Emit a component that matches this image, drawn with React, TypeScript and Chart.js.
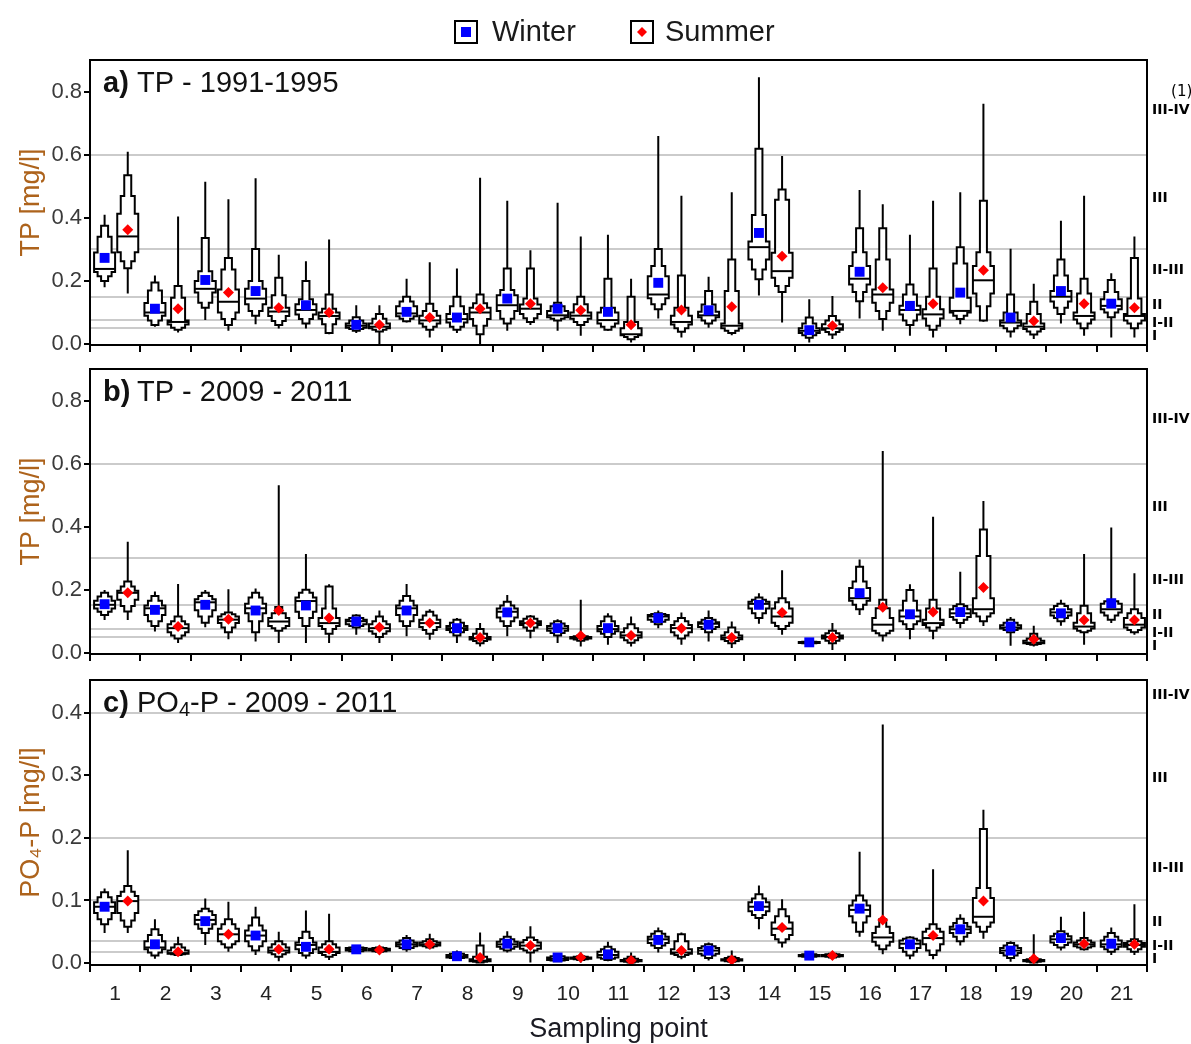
import React, { useEffect, useRef } from 'react';
import { Chart, registerables } from 'chart.js';

Chart.register(...registerables);

const FONT = '"Liberation Sans", Arial, Helvetica, sans-serif';
const CLASS_FONT = '"DejaVu Sans", "Liberation Sans", sans-serif';

// ---------- categories / ticks ----------
const samplingPoints = ['1', '2', '3', '4', '5', '6', '7', '8', '9', '10', '11', '12', '13', '14', '15', '16', '17', '18', '19', '20', '21'];
const tpTickValues = [0, 0.2, 0.4, 0.6, 0.8];
const po4TickValues = [0, 0.1, 0.2, 0.3, 0.4];

// water quality class limits (grey lines) and class label positions (right side)
const tpThresholds = [0.6, 0.3, 0.15, 0.075, 0.05];
const po4Thresholds = [0.4, 0.2, 0.1, 0.036, 0.017];
const classLabelsA = ['    (1)', 'III-IV', 'III', 'II-III', 'II', 'I-II', 'I'];
const classPosA = [0.797, 0.74, 0.463, 0.233, 0.123, 0.066, 0.025];
const classLabelsB = ['III-IV', 'III', 'II-III', 'II', 'I-II', 'I'];
const classPosB = [0.74, 0.462, 0.231, 0.12, 0.06, 0.019];
const classLabelsC = ['III-IV', 'III', 'II-III', 'II', 'I-II', 'I'];
const classPosC = [0.427, 0.295, 0.151, 0.065, 0.027, 0.006];

// ---------- letter-value data ----------
// each row: [min, lower3, lower2, Q1, median, Q3, upper2, upper3, max, mean]
const tpA_winter = [
  [0.18, 0.2, 0.215, 0.228, 0.238, 0.29, 0.34, 0.375, 0.41, 0.273],
  [0.055, 0.06, 0.075, 0.09, 0.1, 0.13, 0.17, 0.195, 0.217, 0.112],
  [0.076, 0.115, 0.131, 0.163, 0.175, 0.2, 0.231, 0.336, 0.514, 0.203],
  [0.063, 0.09, 0.105, 0.126, 0.144, 0.175, 0.2, 0.301, 0.525, 0.168],
  [0.049, 0.065, 0.079, 0.094, 0.108, 0.126, 0.142, 0.2, 0.262, 0.123],
  [0.035, 0.042, 0.048, 0.052, 0.058, 0.065, 0.075, 0.085, 0.123, 0.061],
  [0.068, 0.072, 0.08, 0.088, 0.097, 0.12, 0.135, 0.15, 0.207, 0.102],
  [0.035, 0.045, 0.055, 0.068, 0.079, 0.095, 0.12, 0.15, 0.239, 0.084],
  [0.042, 0.065, 0.08, 0.105, 0.123, 0.155, 0.171, 0.239, 0.454, 0.144],
  [0.042, 0.075, 0.08, 0.085, 0.091, 0.105, 0.12, 0.131, 0.448, 0.112],
  [0.042, 0.045, 0.055, 0.065, 0.076, 0.1, 0.115, 0.207, 0.346, 0.102],
  [0.081, 0.11, 0.126, 0.145, 0.157, 0.215, 0.247, 0.301, 0.659, 0.194],
  [0.052, 0.065, 0.075, 0.085, 0.091, 0.102, 0.125, 0.168, 0.213, 0.107],
  [0.154, 0.205, 0.236, 0.268, 0.307, 0.325, 0.409, 0.619, 0.845, 0.352],
  [0.005, 0.02, 0.028, 0.035, 0.042, 0.05, 0.065, 0.084, 0.142, 0.044],
  [0.081, 0.136, 0.165, 0.189, 0.207, 0.247, 0.291, 0.367, 0.488, 0.229],
  [0.026, 0.06, 0.075, 0.094, 0.108, 0.121, 0.157, 0.189, 0.346, 0.121],
  [0.063, 0.079, 0.09, 0.1, 0.105, 0.147, 0.255, 0.307, 0.481, 0.163],
  [0.021, 0.04, 0.05, 0.058, 0.068, 0.075, 0.1, 0.157, 0.302, 0.084],
  [0.065, 0.095, 0.115, 0.135, 0.15, 0.168, 0.217, 0.268, 0.391, 0.168],
  [0.021, 0.085, 0.1, 0.11, 0.121, 0.142, 0.165, 0.203, 0.224, 0.128],
];
const tpA_summer = [
  [0.16, 0.24, 0.262, 0.291, 0.341, 0.413, 0.469, 0.535, 0.609, 0.362],
  [0.037, 0.045, 0.052, 0.062, 0.07, 0.075, 0.147, 0.184, 0.404, 0.112],
  [0.042, 0.06, 0.079, 0.1, 0.134, 0.173, 0.236, 0.273, 0.459, 0.163],
  [0.049, 0.06, 0.073, 0.089, 0.103, 0.115, 0.155, 0.21, 0.283, 0.115],
  [0.031, 0.035, 0.063, 0.08, 0.089, 0.1, 0.112, 0.157, 0.331, 0.1],
  [0.0, 0.04, 0.045, 0.05, 0.055, 0.065, 0.08, 0.095, 0.123, 0.061],
  [0.021, 0.045, 0.055, 0.065, 0.075, 0.09, 0.105, 0.128, 0.259, 0.084],
  [0.0, 0.031, 0.058, 0.079, 0.1, 0.115, 0.129, 0.157, 0.527, 0.112],
  [0.06, 0.07, 0.082, 0.095, 0.112, 0.125, 0.144, 0.239, 0.297, 0.128],
  [0.026, 0.06, 0.07, 0.08, 0.09, 0.1, 0.126, 0.15, 0.341, 0.107],
  [0.005, 0.015, 0.022, 0.028, 0.031, 0.05, 0.07, 0.15, 0.207, 0.061],
  [0.021, 0.039, 0.05, 0.062, 0.07, 0.09, 0.115, 0.217, 0.47, 0.108],
  [0.028, 0.035, 0.042, 0.05, 0.058, 0.065, 0.168, 0.268, 0.481, 0.118],
  [0.068, 0.165, 0.184, 0.21, 0.231, 0.289, 0.457, 0.49, 0.596, 0.278],
  [0.016, 0.03, 0.038, 0.045, 0.05, 0.063, 0.075, 0.089, 0.152, 0.058],
  [0.042, 0.079, 0.105, 0.131, 0.157, 0.173, 0.268, 0.367, 0.443, 0.178],
  [0.021, 0.045, 0.058, 0.081, 0.094, 0.11, 0.15, 0.239, 0.454, 0.128],
  [0.071, 0.075, 0.12, 0.16, 0.202, 0.247, 0.291, 0.454, 0.761, 0.234],
  [0.016, 0.03, 0.04, 0.048, 0.055, 0.065, 0.095, 0.134, 0.191, 0.073],
  [0.026, 0.05, 0.065, 0.078, 0.089, 0.1, 0.16, 0.207, 0.47, 0.128],
  [0.021, 0.05, 0.065, 0.075, 0.089, 0.095, 0.144, 0.273, 0.341, 0.115],
];
const tpB_winter = [
  [0.104, 0.12, 0.13, 0.14, 0.152, 0.165, 0.178, 0.19, 0.199, 0.154],
  [0.067, 0.085, 0.1, 0.12, 0.141, 0.15, 0.165, 0.18, 0.194, 0.136],
  [0.081, 0.095, 0.115, 0.135, 0.16, 0.17, 0.18, 0.19, 0.199, 0.152],
  [0.036, 0.065, 0.1, 0.125, 0.141, 0.155, 0.175, 0.19, 0.204, 0.134],
  [0.031, 0.085, 0.11, 0.13, 0.164, 0.175, 0.19, 0.2, 0.313, 0.15],
  [0.057, 0.08, 0.085, 0.09, 0.1, 0.105, 0.11, 0.118, 0.122, 0.099],
  [0.052, 0.085, 0.1, 0.12, 0.141, 0.15, 0.165, 0.18, 0.218, 0.134],
  [0.031, 0.055, 0.065, 0.072, 0.078, 0.085, 0.095, 0.105, 0.11, 0.078],
  [0.052, 0.085, 0.1, 0.112, 0.13, 0.14, 0.15, 0.162, 0.183, 0.128],
  [0.031, 0.055, 0.063, 0.07, 0.077, 0.085, 0.093, 0.1, 0.106, 0.078],
  [0.025, 0.05, 0.06, 0.068, 0.075, 0.085, 0.1, 0.115, 0.125, 0.078],
  [0.078, 0.09, 0.098, 0.105, 0.115, 0.12, 0.123, 0.125, 0.134, 0.11],
  [0.036, 0.065, 0.075, 0.082, 0.092, 0.097, 0.105, 0.11, 0.134, 0.089],
  [0.092, 0.11, 0.125, 0.14, 0.155, 0.162, 0.168, 0.175, 0.189, 0.152],
  [0.028, 0.029, 0.03, 0.031, 0.033, 0.034, 0.035, 0.036, 0.038, 0.033],
  [0.12, 0.138, 0.152, 0.165, 0.173, 0.205, 0.226, 0.273, 0.296, 0.189],
  [0.043, 0.075, 0.09, 0.1, 0.115, 0.134, 0.165, 0.199, 0.217, 0.122],
  [0.078, 0.094, 0.105, 0.113, 0.125, 0.138, 0.148, 0.154, 0.257, 0.129],
  [0.022, 0.065, 0.072, 0.077, 0.08, 0.087, 0.095, 0.105, 0.113, 0.083],
  [0.086, 0.1, 0.11, 0.118, 0.128, 0.138, 0.148, 0.155, 0.168, 0.125],
  [0.094, 0.105, 0.118, 0.128, 0.138, 0.155, 0.163, 0.168, 0.397, 0.157],
];
const tpB_summer = [
  [0.104, 0.131, 0.148, 0.168, 0.19, 0.197, 0.21, 0.226, 0.352, 0.19],
  [0.031, 0.045, 0.055, 0.065, 0.078, 0.09, 0.1, 0.115, 0.218, 0.083],
  [0.043, 0.065, 0.08, 0.094, 0.105, 0.115, 0.122, 0.128, 0.201, 0.106],
  [0.031, 0.07, 0.078, 0.085, 0.099, 0.11, 0.125, 0.145, 0.531, 0.134],
  [0.031, 0.06, 0.075, 0.085, 0.094, 0.11, 0.14, 0.21, 0.217, 0.11],
  [0.031, 0.05, 0.06, 0.068, 0.078, 0.09, 0.1, 0.115, 0.134, 0.081],
  [0.041, 0.06, 0.072, 0.082, 0.094, 0.105, 0.118, 0.13, 0.138, 0.094],
  [0.02, 0.03, 0.037, 0.042, 0.046, 0.05, 0.06, 0.075, 0.094, 0.048],
  [0.046, 0.07, 0.08, 0.088, 0.094, 0.1, 0.108, 0.115, 0.12, 0.094],
  [0.02, 0.038, 0.042, 0.045, 0.047, 0.05, 0.052, 0.055, 0.168, 0.054],
  [0.02, 0.032, 0.04, 0.048, 0.055, 0.065, 0.078, 0.09, 0.115, 0.055],
  [0.025, 0.045, 0.055, 0.065, 0.078, 0.088, 0.1, 0.11, 0.128, 0.078],
  [0.015, 0.03, 0.037, 0.043, 0.048, 0.055, 0.065, 0.08, 0.099, 0.048],
  [0.057, 0.075, 0.085, 0.095, 0.115, 0.14, 0.16, 0.173, 0.262, 0.128],
  [0.009, 0.03, 0.038, 0.045, 0.05, 0.055, 0.062, 0.07, 0.094, 0.048],
  [0.036, 0.055, 0.062, 0.07, 0.089, 0.11, 0.141, 0.168, 0.64, 0.144],
  [0.043, 0.07, 0.08, 0.088, 0.094, 0.105, 0.14, 0.168, 0.431, 0.129],
  [0.085, 0.1, 0.115, 0.125, 0.138, 0.173, 0.307, 0.391, 0.481, 0.207],
  [0.02, 0.025, 0.028, 0.03, 0.032, 0.038, 0.045, 0.06, 0.086, 0.043],
  [0.025, 0.065, 0.07, 0.077, 0.083, 0.095, 0.125, 0.149, 0.313, 0.104],
  [0.057, 0.065, 0.072, 0.08, 0.089, 0.11, 0.125, 0.138, 0.252, 0.104],
];
const po4_winter = [
  [0.048, 0.062, 0.07, 0.08, 0.09, 0.097, 0.105, 0.113, 0.119, 0.09],
  [0.007, 0.012, 0.017, 0.022, 0.025, 0.035, 0.045, 0.054, 0.07, 0.03],
  [0.029, 0.048, 0.055, 0.062, 0.069, 0.077, 0.083, 0.087, 0.103, 0.067],
  [0.013, 0.02, 0.027, 0.035, 0.044, 0.052, 0.06, 0.073, 0.09, 0.044],
  [0.007, 0.012, 0.016, 0.022, 0.029, 0.033, 0.04, 0.05, 0.084, 0.026],
  [0.017, 0.018, 0.019, 0.02, 0.022, 0.024, 0.025, 0.026, 0.027, 0.022],
  [0.018, 0.022, 0.024, 0.027, 0.03, 0.033, 0.036, 0.04, 0.045, 0.03],
  [0.004, 0.006, 0.008, 0.009, 0.011, 0.013, 0.015, 0.017, 0.02, 0.011],
  [0.017, 0.02, 0.023, 0.026, 0.03, 0.034, 0.038, 0.042, 0.051, 0.031],
  [0.002, 0.003, 0.004, 0.005, 0.007, 0.009, 0.011, 0.013, 0.014, 0.009],
  [0.003, 0.005, 0.007, 0.009, 0.013, 0.018, 0.022, 0.026, 0.034, 0.014],
  [0.017, 0.024, 0.028, 0.032, 0.038, 0.042, 0.047, 0.051, 0.057, 0.037],
  [0.004, 0.008, 0.012, 0.015, 0.02, 0.024, 0.027, 0.03, 0.033, 0.02],
  [0.054, 0.072, 0.077, 0.083, 0.09, 0.097, 0.103, 0.11, 0.124, 0.091],
  [0.008, 0.009, 0.01, 0.011, 0.012, 0.013, 0.014, 0.015, 0.016, 0.012],
  [0.042, 0.05, 0.065, 0.075, 0.085, 0.092, 0.1, 0.108, 0.178, 0.087],
  [0.006, 0.012, 0.018, 0.024, 0.031, 0.036, 0.039, 0.041, 0.043, 0.03],
  [0.028, 0.035, 0.042, 0.048, 0.054, 0.058, 0.064, 0.071, 0.078, 0.054],
  [0.002, 0.008, 0.012, 0.016, 0.02, 0.024, 0.028, 0.032, 0.035, 0.02],
  [0.02, 0.025, 0.029, 0.033, 0.038, 0.043, 0.047, 0.051, 0.074, 0.04],
  [0.013, 0.018, 0.022, 0.026, 0.03, 0.036, 0.042, 0.048, 0.057, 0.031],
];
const po4_summer = [
  [0.048, 0.058, 0.068, 0.08, 0.099, 0.107, 0.114, 0.123, 0.18, 0.099],
  [0.012, 0.013, 0.014, 0.015, 0.016, 0.02, 0.025, 0.03, 0.042, 0.018],
  [0.018, 0.025, 0.03, 0.035, 0.046, 0.055, 0.062, 0.07, 0.098, 0.046],
  [0.003, 0.01, 0.014, 0.017, 0.02, 0.025, 0.03, 0.035, 0.05, 0.022],
  [0.005, 0.01, 0.013, 0.016, 0.018, 0.025, 0.03, 0.035, 0.079, 0.022],
  [0.017, 0.018, 0.019, 0.02, 0.021, 0.023, 0.024, 0.025, 0.026, 0.021],
  [0.022, 0.025, 0.027, 0.028, 0.03, 0.033, 0.035, 0.038, 0.047, 0.03],
  [0.0, 0.001, 0.002, 0.003, 0.004, 0.006, 0.01, 0.028, 0.049, 0.009],
  [0.001, 0.017, 0.02, 0.023, 0.028, 0.033, 0.037, 0.041, 0.059, 0.028],
  [0.001, 0.005, 0.006, 0.007, 0.008, 0.009, 0.01, 0.011, 0.017, 0.009],
  [0.0, 0.001, 0.002, 0.003, 0.004, 0.005, 0.007, 0.01, 0.017, 0.004],
  [0.006, 0.01, 0.013, 0.015, 0.017, 0.022, 0.035, 0.046, 0.049, 0.02],
  [0.001, 0.002, 0.003, 0.004, 0.005, 0.006, 0.008, 0.01, 0.02, 0.005],
  [0.025, 0.033, 0.038, 0.045, 0.055, 0.065, 0.075, 0.086, 0.102, 0.057],
  [0.008, 0.009, 0.01, 0.011, 0.012, 0.013, 0.014, 0.015, 0.016, 0.012],
  [0.014, 0.022, 0.028, 0.034, 0.041, 0.048, 0.058, 0.07, 0.381, 0.069],
  [0.006, 0.013, 0.02, 0.03, 0.04, 0.05, 0.055, 0.062, 0.15, 0.044],
  [0.039, 0.05, 0.058, 0.065, 0.074, 0.104, 0.12, 0.214, 0.245, 0.099],
  [0.0, 0.001, 0.002, 0.003, 0.004, 0.005, 0.006, 0.008, 0.046, 0.007],
  [0.02, 0.022, 0.025, 0.027, 0.03, 0.033, 0.036, 0.04, 0.082, 0.031],
  [0.013, 0.018, 0.022, 0.026, 0.029, 0.032, 0.035, 0.038, 0.094, 0.03],
];

// ---------- styling constants ----------
const WINTER_OFFSET = -0.21;
const SUMMER_OFFSET = 0.25;
const LEVEL_WIDTHS = [21, 14, 7];
const Y_TITLE_COLOR = '#ad631c';

type PanelSpec = {
  key: string;
  top: number;
  height: number;
  padTop: number;
  xAxisHeight: number;
  ymin: number;
  ymax: number;
  yTicks: number[];
  yDecimals: number;
  yTitle: string;
  winter: number[][];
  summer: number[][];
  thresholds: number[];
  classPos: number[];
  classLabels: string[];
  letter: string;
  titleParts: { text: string; sub?: boolean }[];
  showXLabels: boolean;
  legend: boolean;
};

const panels: PanelSpec[] = [
  {
    key: 'a', top: 0, height: 355, padTop: 60, xAxisHeight: 10, ymin: -0.003, ymax: 0.9,
    yTicks: tpTickValues, yDecimals: 1, yTitle: 'TP [mg/l]', winter: tpA_winter, summer: tpA_summer,
    thresholds: tpThresholds, classPos: classPosA, classLabels: classLabelsA, letter: 'a)',
    titleParts: [{ text: 'TP - 1991-1995' }], showXLabels: false, legend: true,
  },
  {
    key: 'b', top: 355, height: 310, padTop: 14, xAxisHeight: 11, ymin: -0.004, ymax: 0.9,
    yTicks: tpTickValues, yDecimals: 1, yTitle: 'TP [mg/l]', winter: tpB_winter, summer: tpB_summer,
    thresholds: tpThresholds, classPos: classPosB, classLabels: classLabelsB, letter: 'b)',
    titleParts: [{ text: 'TP - 2009 - 2011' }], showXLabels: false, legend: false,
  },
  {
    key: 'c', top: 665, height: 379, padTop: 15, xAxisHeight: 79, ymin: -0.003, ymax: 0.452,
    yTicks: po4TickValues, yDecimals: 1, yTitle: 'PO\u2084-P [mg/l]', winter: po4_winter, summer: po4_summer,
    thresholds: po4Thresholds, classPos: classPosC, classLabels: classLabelsC, letter: 'c)',
    titleParts: [{ text: 'PO' }, { text: '4', sub: true }, { text: '-P - 2009 - 2011' }], showXLabels: true, legend: false,
  },
];

function drawBoxen(ctx: CanvasRenderingContext2D, ys: any, cx: number, r: number[]) {
  const [mn, l3, l2, q1, med, q3, u2, u3, mx] = r;
  const Y = (v: number) => ys.getPixelForValue(v);
  const h0 = LEVEL_WIDTHS[0] / 2;
  const h1 = LEVEL_WIDTHS[1] / 2;
  const h2 = LEVEL_WIDTHS[2] / 2;
  // whiskers
  ctx.beginPath();
  ctx.moveTo(cx, Y(mx));
  ctx.lineTo(cx, Y(u3));
  ctx.moveTo(cx, Y(l3));
  ctx.lineTo(cx, Y(mn));
  ctx.stroke();
  // stepped letter-value outline
  const pts: [number, number][] = [
    [h2, l3], [h2, l2], [h1, l2], [h1, q1], [h0, q1], [h0, q3], [h1, q3], [h1, u2], [h2, u2], [h2, u3],
  ];
  ctx.beginPath();
  pts.forEach(([dx, v], i) => {
    if (i === 0) ctx.moveTo(cx + dx, Y(v));
    else ctx.lineTo(cx + dx, Y(v));
  });
  for (let i = pts.length - 1; i >= 0; i--) {
    const [dx, v] = pts[i];
    ctx.lineTo(cx - dx, Y(v));
  }
  ctx.closePath();
  ctx.fill();
  ctx.stroke();
  // median
  ctx.beginPath();
  ctx.moveTo(cx - h0, Y(med));
  ctx.lineTo(cx + h0, Y(med));
  ctx.stroke();
}

function makeConfig(p: PanelSpec): any {
  const panelPlugin = {
    id: 'panel_' + p.key,
    beforeDatasetsDraw(chart: any) {
      const { ctx, chartArea: a, scales } = chart;
      const xs = scales.x;
      const ys = scales.y;
      ctx.save();
      ctx.strokeStyle = '#cbcbcb';
      ctx.lineWidth = 2;
      p.thresholds.forEach((v) => {
        const y = Math.round(ys.getPixelForValue(v));
        ctx.beginPath();
        ctx.moveTo(a.left, y);
        ctx.lineTo(a.right, y);
        ctx.stroke();
      });
      ctx.strokeStyle = '#000';
      ctx.fillStyle = '#fff';
      ctx.lineWidth = 2;
      ctx.lineJoin = 'miter';
      p.winter.forEach((r, i) => drawBoxen(ctx, ys, xs.getPixelForValue(i + 1 + WINTER_OFFSET), r));
      p.summer.forEach((r, i) => drawBoxen(ctx, ys, xs.getPixelForValue(i + 1 + SUMMER_OFFSET), r));
      ctx.restore();
    },
    afterDraw(chart: any) {
      const { ctx, chartArea: a } = chart;
      ctx.save();
      // frame
      ctx.strokeStyle = '#000';
      ctx.lineWidth = 2;
      ctx.strokeRect(a.left, a.top, a.right - a.left, a.bottom - a.top);
      // panel title
      ctx.fillStyle = '#111';
      ctx.textBaseline = 'alphabetic';
      ctx.textAlign = 'left';
      const base = a.top + 32;
      ctx.font = `bold 29px ${FONT}`;
      ctx.fillText(p.letter, a.left + 13, base);
      let x = a.left + 47;
      p.titleParts.forEach((part) => {
        if (part.sub) {
          ctx.font = `20px ${FONT}`;
          ctx.fillText(part.text, x, base + 4);
        } else {
          ctx.font = `29px ${FONT}`;
          ctx.fillText(part.text, x, base);
        }
        x += ctx.measureText(part.text).width;
      });
      // legend
      if (p.legend) {
        const items = [
          { label: 'Winter', box: 455, text: 492, kind: 'square' },
          { label: 'Summer', box: 631, text: 665, kind: 'diamond' },
        ];
        items.forEach((it) => {
          ctx.strokeStyle = '#000';
          ctx.lineWidth = 2;
          ctx.strokeRect(it.box, 21, 22, 22);
          const cx = it.box + 11;
          const cy = 32;
          if (it.kind === 'square') {
            ctx.fillStyle = '#0000ff';
            ctx.fillRect(cx - 5, cy - 5, 10, 10);
          } else {
            ctx.fillStyle = '#ff0000';
            ctx.beginPath();
            ctx.moveTo(cx - 5, cy);
            ctx.lineTo(cx, cy - 5);
            ctx.lineTo(cx + 5, cy);
            ctx.lineTo(cx, cy + 5);
            ctx.closePath();
            ctx.fill();
          }
          ctx.fillStyle = '#1a1a1a';
          ctx.font = `29px ${FONT}`;
          ctx.textBaseline = 'middle';
          ctx.fillText(it.label, it.text, cy + 1);
        });
      }
      ctx.restore();
    },
  };

  return {
    type: 'scatter',
    data: {
      datasets: [
        {
          label: 'Winter',
          data: p.winter.map((r, i) => ({ x: i + 1 + WINTER_OFFSET, y: r[9] })),
          pointStyle: 'rect',
          pointRadius: 7,
          backgroundColor: '#0000ff',
          borderWidth: 0,
        },
        {
          label: 'Summer',
          data: p.summer.map((r, i) => ({ x: i + 1 + SUMMER_OFFSET, y: r[9] })),
          pointStyle: 'rectRot',
          pointRadius: 5.5,
          backgroundColor: '#ff0000',
          borderWidth: 0,
        },
      ],
    },
    options: {
      animation: false,
      responsive: false,
      maintainAspectRatio: false,
      events: [],
      layout: { padding: { top: p.padTop, left: 0, right: 0, bottom: 0 } },
      plugins: { legend: { display: false }, tooltip: { enabled: false }, title: { display: false } },
      scales: {
        x: {
          type: 'linear',
          position: 'bottom',
          min: 0.5,
          max: 21.5,
          afterBuildTicks: (s: any) => {
            s.ticks = samplingPoints.map((_, i) => ({ value: i + 1 }));
          },
          afterFit: (s: any) => {
            s.height = p.xAxisHeight;
            s.paddingLeft = 0;
            s.paddingRight = 0;
          },
          grid: { offset: true, drawOnChartArea: false, drawTicks: true, tickLength: 7, color: '#000', lineWidth: 2 },
          border: { display: false },
          ticks: {
            display: p.showXLabels,
            autoSkip: false,
            maxRotation: 0,
            padding: 10,
            color: '#222',
            font: { family: FONT, size: 21 },
            callback: (_v: any, i: number) => samplingPoints[i],
          },
          title: {
            display: p.showXLabels,
            text: 'Sampling point',
            color: '#1a1a22',
            font: { family: FONT, size: 27 },
            padding: { top: 0, bottom: -2 },
          },
        },
        y: {
          type: 'linear',
          position: 'left',
          min: p.ymin,
          max: p.ymax,
          afterBuildTicks: (s: any) => {
            s.ticks = p.yTicks.map((v) => ({ value: v }));
          },
          afterFit: (s: any) => {
            s.width = 90;
            s.paddingTop = 0;
            s.paddingBottom = 0;
          },
          grid: { drawOnChartArea: false, drawTicks: true, tickLength: 6, color: '#000', lineWidth: 2 },
          border: { display: false },
          ticks: {
            autoSkip: false,
            padding: 2,
            color: '#3a3a3a',
            font: { family: FONT, size: 22 },
            callback: (v: any) => Number(v).toFixed(p.yDecimals),
          },
          title: {
            display: true,
            text: p.yTitle,
            color: Y_TITLE_COLOR,
            font: { family: FONT, size: 27 },
            padding: { top: 15, bottom: 0 },
          },
        },
        y2: {
          type: 'linear',
          position: 'right',
          min: p.ymin,
          max: p.ymax,
          afterBuildTicks: (s: any) => {
            s.ticks = p.classPos.map((v) => ({ value: v }));
          },
          afterFit: (s: any) => {
            s.width = 44;
            s.paddingTop = 0;
            s.paddingBottom = 0;
          },
          grid: { display: false, drawTicks: false, drawOnChartArea: false },
          border: { display: false },
          ticks: {
            autoSkip: false,
            padding: 5,
            crossAlign: 'near',
            color: '#000',
            font: (ctx: any) =>
              p.classLabels[ctx.index] && p.classLabels[ctx.index].indexOf('(') >= 0
                ? { family: CLASS_FONT, size: 15, weight: 'normal' }
                : { family: CLASS_FONT, size: 14, weight: 'bold' },
            callback: (_v: any, i: number) => p.classLabels[i],
          },
        },
      },
    },
    plugins: [panelPlugin],
  };
}

function Panel({ p }: { p: PanelSpec }) {
  const ref = useRef<HTMLCanvasElement | null>(null);
  useEffect(() => {
    if (!ref.current) return;
    const chart = new Chart(ref.current, makeConfig(p));
    return () => chart.destroy();
  }, [p]);
  return (
    <canvas
      ref={ref}
      width={1191}
      height={p.height}
      style={{ position: 'absolute', left: 0, top: p.top, width: 1191, height: p.height, display: 'block' }}
    />
  );
}

export default function App() {
  return (
    <div
      style={{
        position: 'absolute',
        left: 0,
        top: 0,
        width: 1191,
        height: 1044,
        overflow: 'hidden',
        background: '#fff',
      }}
    >
      {panels.map((p) => (
        <Panel key={p.key} p={p} />
      ))}
    </div>
  );
}
